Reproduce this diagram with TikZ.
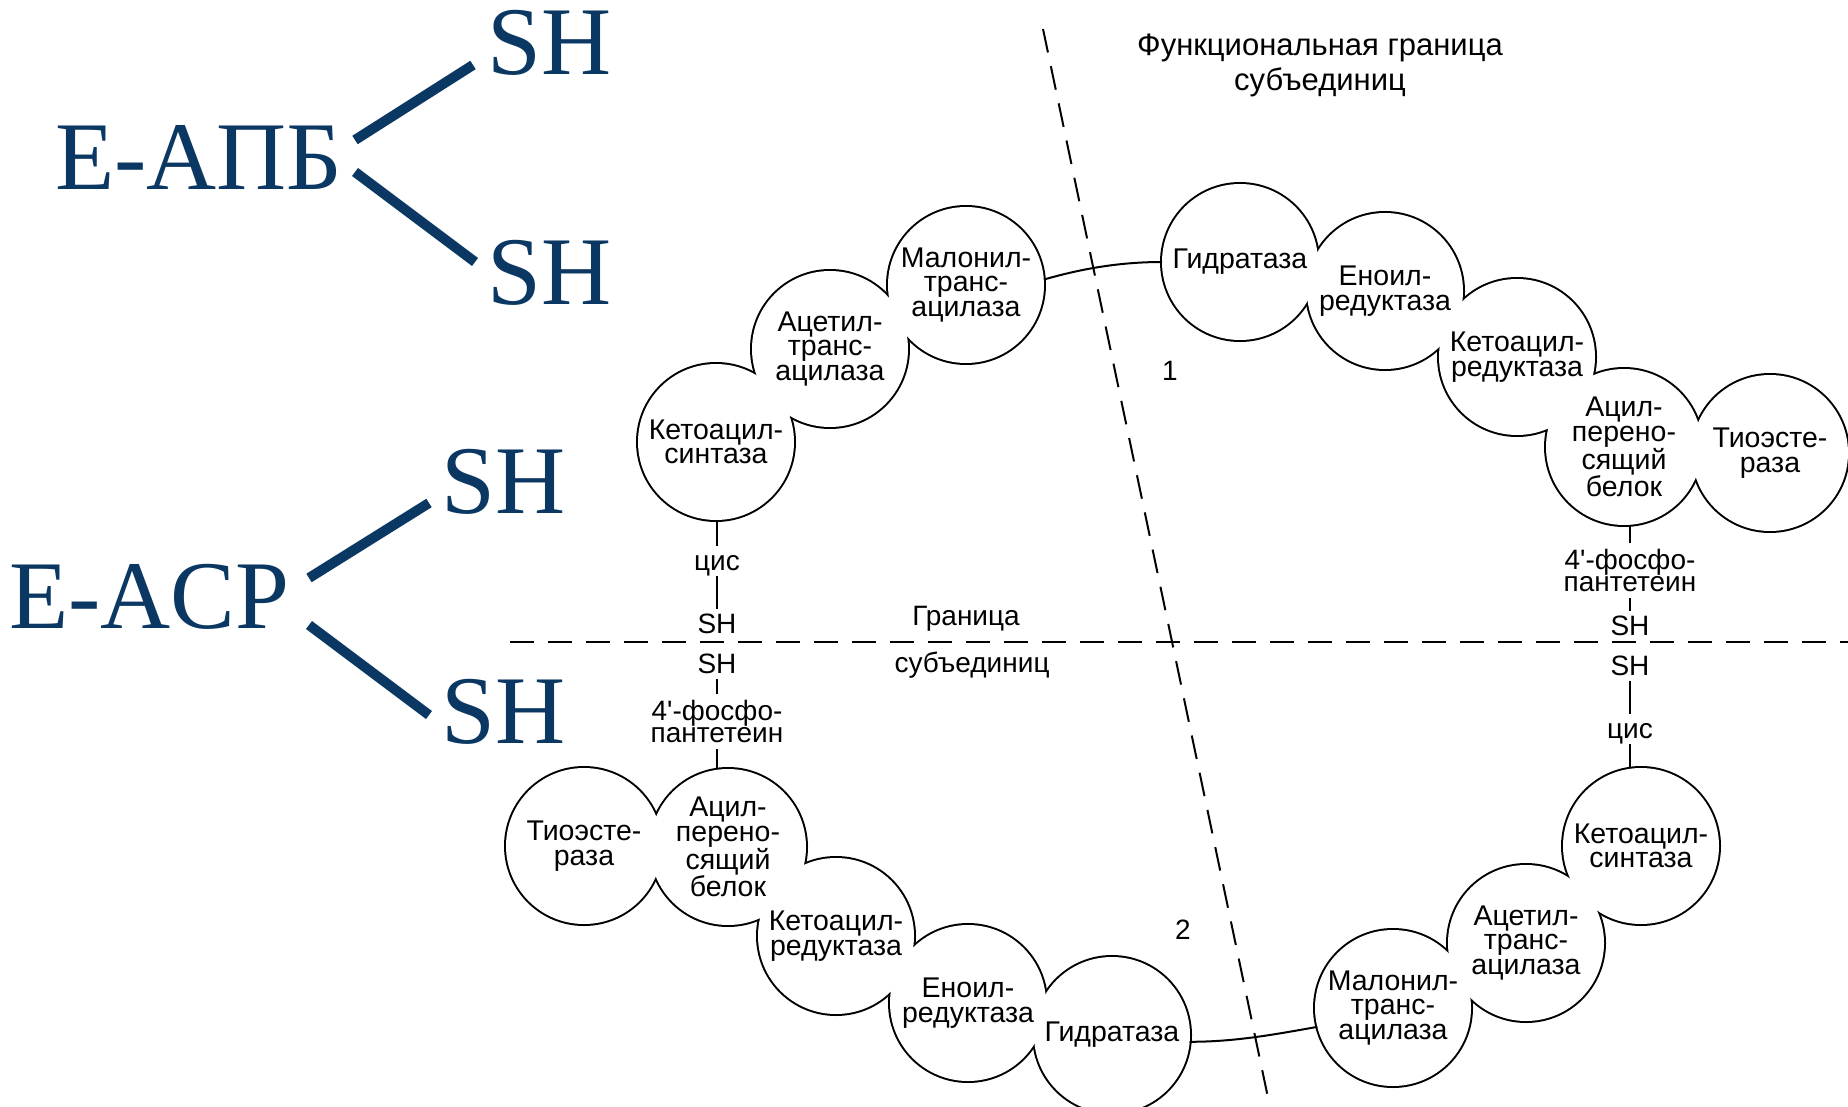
\documentclass[tikz,border=0pt]{standalone}
\usepackage{fontspec}
\setmainfont{Liberation Sans}
\newfontfamily\serifnavy{Liberation Serif}
\definecolor{navy}{RGB}{11,55,99}
\pgfdeclarelayer{bg}
\pgfdeclarelayer{ring}
\pgfdeclarelayer{hole}
\pgfsetlayers{bg,ring,hole,main}
\begin{document}
\begin{tikzpicture}[x=1pt,y=-1pt,
  enz/.style={circle, minimum size=156pt, inner sep=0pt, outer sep=0pt, align=center,
    font=\fontsize{28.5pt}{24.5pt}\selectfont},
  lbl/.style={inner sep=0pt, outer sep=6pt, font=\fontsize{28pt}{22.5pt}\selectfont,
    text height=18pt, text depth=0pt, anchor=base},
  lbl2/.style={inner sep=0pt, outer sep=6pt, align=center, font=\fontsize{28pt}{22.5pt}\selectfont},
  plain/.style={inner sep=0pt, font=\fontsize{28pt}{23pt}\selectfont},
  link/.style={line width=2pt},
  bound/.style={line width=2pt, dash pattern=on 24pt off 14pt},
  big/.style={text=navy, font={\serifnavy\fontsize{97pt}{100pt}\selectfont}, inner sep=0pt, anchor=base west},
  bond/.style={draw=navy, line width=10pt},
]
\useasboundingbox (0,0) rectangle (1848,1107);
\begin{pgfonlayer}{bg}
\fill[white] (0,0) rectangle (1848,1107);
\end{pgfonlayer}

% left formulas
\node[big] (eapb) at (55,190) {Е-АПБ};
\node[big] (sh1) at (487,75) {SH};
\node[big] (sh2) at (487,305) {SH};
\node[big] (eacp) at (9,628) {E-ACP};
\node[big] (sh3) at (441,513) {SH};
\node[big] (sh4) at (441,743) {SH};
\coordinate (b1a) at (355,140); \coordinate (b1b) at (473,65);
\coordinate (b2a) at (355,172); \coordinate (b2b) at (475,262);
\coordinate (b3a) at (309,578); \coordinate (b3b) at (429,503);
\coordinate (b4a) at (309,625); \coordinate (b4b) at (429,715);
\draw[bond] (b1a) -- (b1b);
\draw[bond] (b2a) -- (b2b);
\draw[bond] (b3a) -- (b3b);
\draw[bond] (b4a) -- (b4b);

% titles and labels
\node[inner sep=0pt, anchor=north, align=center, font=\fontsize{31pt}{35pt}\selectfont] (title) at (1320,34)
  {Функциональная граница\\субъединиц};
\node[plain, anchor=base] (gr) at (966,625) {Граница};
\node[plain, anchor=base] (sub) at (972,672) {субъединиц};
\node[plain] (n1) at (1170,371) {1};
\node[plain] (n2) at (1183,930) {2};

% enzymes, subunit chains
\node[enz] (ks1) at (716,442) {Кетоацил-\\синтаза};
\node[enz] (at1) at (830,349) {Ацетил-\\транс-\\ацилаза};
\node[enz] (mt1) at (966,285) {Малонил-\\транс-\\ацилаза};
\node[enz] (hy1) at (1240,262) {Гидратаза};
\node[enz] (er1) at (1385,291) {Еноил-\\редуктаза};
\node[enz] (kr1) at (1517,357) {Кетоацил-\\редуктаза};
\node[enz] (acp1) at (1624,447) {Ацил-\\перено-\\сящий\\белок};
\node[enz] (te1) at (1770,453) {Тиоэсте-\\раза};

\node[enz] (te2) at (584,846) {Тиоэсте-\\раза};
\node[enz] (acp2) at (728,847) {Ацил-\\перено-\\сящий\\белок};
\node[enz] (kr2) at (836,936) {Кетоацил-\\редуктаза};
\node[enz] (er2) at (968,1003) {Еноил-\\редуктаза};
\node[enz] (hy2) at (1112,1035) {Гидратаза};
\node[enz] (ks2) at (1641,846) {Кетоацил-\\синтаза};
\node[enz] (at2) at (1526,943) {Ацетил-\\транс-\\ацилаза};
\node[enz] (mt2) at (1393,1008) {Малонил-\\транс-\\ацилаза};

\begin{pgfonlayer}{ring}
\foreach \n in {ks1,at1,mt1,hy1,er1,kr1,acp1,te1,te2,acp2,kr2,er2,hy2,ks2,at2,mt2}
  \draw[line width=4pt] (\n.center) circle (78pt);
\end{pgfonlayer}
\begin{pgfonlayer}{hole}
\foreach \n in {ks1,at1,mt1,hy1,er1,kr1,acp1,te1,te2,acp2,kr2,er2,hy2,ks2,at2,mt2}
  \fill[white] (\n.center) circle (78pt);
\end{pgfonlayer}

% links between the two halves of each subunit
\draw[link] (mt1.4) .. controls +(35,-10) and +(-45,0) .. (hy1.west);
\draw[link] (hy2.-5) .. controls +(45,0) and +(-45,8) .. (mt2.194);

% left column
\node[lbl] (cisL) at (717,570) {цис};
\node[lbl] (shL1) at (717,633) {SH};
\node[lbl] (shL2) at (717,673) {SH};
\node[lbl2] (ppL) at (717,721.5) {4\textquotesingle-фосфо-\\пантетеин};
\draw[link] (cisL.north |- ks1.south) -- (cisL.north);
\draw[link] (cisL.south) -- (shL1.north);
\draw[link] (shL2.south) -- (ppL.north);
\draw[link] (ppL.south) -- (ppL.south |- acp2.north);

% right column
\node[lbl2] (ppR) at (1630,570.5) {4\textquotesingle-фосфо-\\пантетеин};
\node[lbl] (shR1) at (1630,635) {SH};
\node[lbl] (shR2) at (1630,675) {SH};
\node[lbl] (cisR) at (1630,738) {цис};
\draw[link] (ppR.north |- acp1.south) -- (ppR.north);
\draw[link] (ppR.south) -- (shR1.north);
\draw[link] (shR2.south) -- (cisR.north);
\draw[link] (cisR.south) -- (cisR.south |- ks2.north);

% subunit boundaries
\coordinate (hdL) at (510,642); \coordinate (hdR) at (1848,642);
\coordinate (ddT) at (1043,29); \coordinate (ddB) at (1271,1112);
\draw[bound] (hdL) -- (hdR);
\draw[bound] (ddT) -- (ddB);
\end{tikzpicture}
\end{document}
